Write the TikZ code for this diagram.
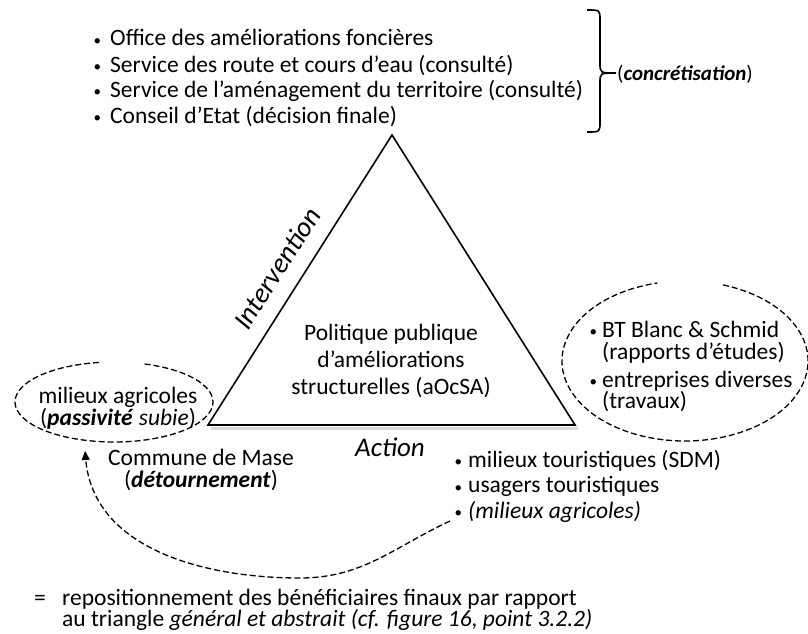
\documentclass[tikz,border=0pt]{standalone}
\usepackage{fontspec}
\setmainfont{Carlito}
\usetikzlibrary{arrows.meta,calc}
% small bullet followed by a fixed indent
\newcommand\bulgap[1]{\makebox[#1][l]{\raisebox{0.5pt}{\fontsize{15}{15}\selectfont\textbullet}}}
\begin{document}
\begin{tikzpicture}[x=1pt,y=-1pt,
  txt/.style={inner sep=0pt,font=\fontsize{23.5}{27}\selectfont},
  ctxt/.style={txt,align=center},
  item/.style={txt,anchor=base west},
  side/.style={inner sep=0pt,font=\itshape\fontsize{27}{30}\selectfont},
  dashline/.style={line width=1.3pt,dash pattern=on 6pt off 3pt},
  edge/.style={line width=1.6pt,line join=miter}]
\useasboundingbox (0,0) rectangle (808,634);

% triangle of the policy
\coordinate (top) at (392,135);
\coordinate (bl) at (208,425);
\coordinate (br) at (575,425);
\fill[black!25,opacity=0.6] ($(bl)+(3,2)$) -- ($(br)+(3,2)$) -- ($(br)+(3,5)$) -- ($(bl)+(3,5)$) -- cycle;
\draw[edge] (top) -- (br) -- (bl) -- cycle;

\node[ctxt] (pp) at (391,361)
  {Politique publique\\d’améliorations\\structurelles (aOcSA)};
\node[side,rotate=57.6,font=\itshape\fontsize{28}{30}\selectfont] (interv) at (277,268) {Intervention};
\node[side] (action) at (390,447) {Action};

% actors at the top
\node[item] (t1) at (93.3,46) {\bulgap{16.7pt}Office des améliorations foncières};
\node[item] (t2) at (93.3,72) {\bulgap{16.7pt}Service des route et cours d’eau (consulté)};
\node[item] (t3) at (93.3,97) {\bulgap{16.7pt}Service de l’aménagement du territoire (consulté)};
\node[item] (t4) at (93.3,123) {\bulgap{16.7pt}Conseil d’Etat (décision finale)};

% bracket
\draw[line width=1.6pt] (587,10) .. controls (600,10) .. (600,20) -- (600,63)
  .. controls (600,73) .. (616,73) .. controls (600,73) .. (600,83) -- (600,122)
  .. controls (600,132) .. (587,132);
\node[item,font=\fontsize{21}{24}\selectfont] (concr) at (617,80) {(\textbf{\textit{concrétisation}})};

% left group
\draw[dashline] (114,402) ++(-72:99 and 40) arc[start angle=-72,end angle=262,x radius=99,y radius=40];
\node[ctxt,font=\fontsize{23.5}{21}\selectfont] (agri) at (118,408)
  {milieux agricoles\\(\textbf{\textit{passivité}} \textit{subie})};
\node[ctxt,font=\fontsize{23.5}{22}\selectfont] (mase) at (201,470)
  {Commune de Mase\\(\textbf{\textit{détournement}})};

% right group
\draw[dashline] (685,361) ++(-72:123 and 80) arc[start angle=-72,end angle=257,x radius=123,y radius=80];
\node[item] (bt1) at (589.3,337) {\bulgap{12.7pt}BT Blanc \& Schmid};
\node[item] (bt2) at (602,359) {(rapports d’études)};
\node[item] (en1) at (589.3,387) {\bulgap{12.7pt}entreprises diverses};
\node[item] (en2) at (602,408) {(travaux)};

% users
\node[item] (u1) at (454.3,467) {\bulgap{13.7pt}milieux touristiques (SDM)};
\node[item] (u2) at (454.3,492.5) {\bulgap{13.7pt}usagers touristiques};
\node[item] (u3) at (454.3,518) {\bulgap{13.7pt}\textit{(milieux agricoles)}};

% repositioning arrow
\coordinate (from) at (450,521);
\coordinate (to) at (85,451);
\draw[dashline,-{Triangle[length=9pt,width=8pt]}] (from) to[out=-155,in=0] (300,578) to[out=180,in=-85] (to);

% legend
\node[item] (eq) at (34,605) {=};
\node[item] (leg1) at (62,605) {repositionnement des bénéficiaires finaux par rapport};
\node[item] (leg2) at (62,626) {au triangle \textit{général et abstrait (cf. figure 16, point 3.2.2)}};
\end{tikzpicture}
\end{document}
